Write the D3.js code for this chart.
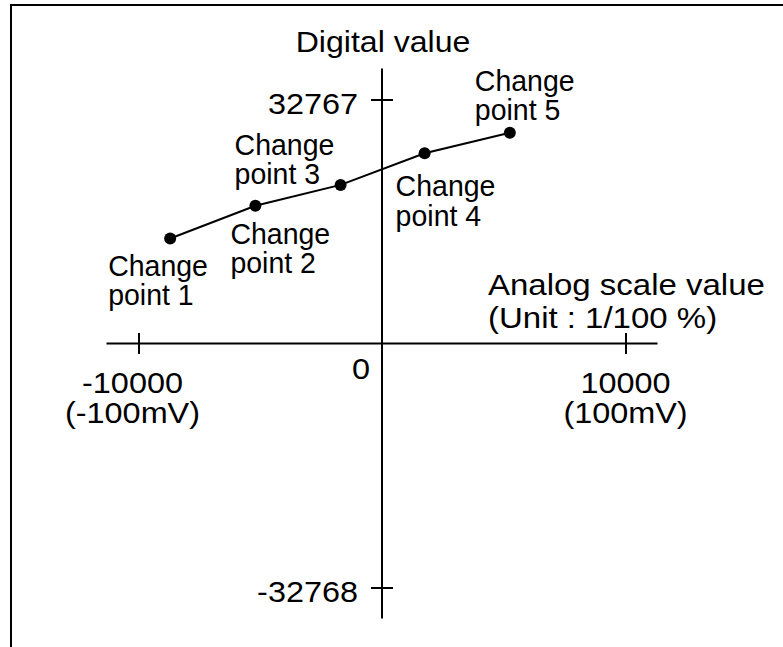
<!DOCTYPE html>
<html>
<head>
<meta charset="utf-8">
<script src="https://cdn.jsdelivr.net/npm/d3@7"></script>
<style>
  body { margin: 0; background: #fff; }
  svg { display: block; }
  text { font-family: "Liberation Sans", Arial, Helvetica, sans-serif; fill: #000; }
</style>
</head>
<body>
<div id="chart"></div>
<script>
// Data
const xTicks = [-10000, 10000];
const xTickLabels = [["-10000", "(-100mV)"], ["10000", "(100mV)"]];
const yTicks = [32767, -32768];
const yTickLabels = ["32767", "-32768"];
const pointX = [-8700, -5200, -1700, 1750, 5250];
const pointY = [14100, 18500, 21300, 25550, 28300];
const pointLabels = [
  ["Change", "point 1"],
  ["Change", "point 2"],
  ["Change", "point 3"],
  ["Change", "point 4"],
  ["Change", "point 5"]
];

// Label offsets from each point (pixels)
const labelOffsets = [[-62, 37], [-25, 38], [-106, -30], [-29, 43], [-35, -42]];
const xLabelShift = [-6, 0];

const width = 783;
const height = 647;

const x = d3.scaleLinear()
    .domain([-10000, 10000])
    .range([138.5, 625.5]);

const y = d3.scaleLinear()
    .domain([-32768, 32767])
    .range([587.5, 99.5]);

const svg = d3.create("svg")
    .attr("width", width)
    .attr("height", height);

// Frame (open to the right and bottom)
svg.append("rect")
    .attr("x", 11).attr("y", 5)
    .attr("width", 820).attr("height", 700)
    .attr("fill", "none")
    .attr("stroke", "#000")
    .attr("stroke-width", 2);

const x0 = x(0), y0 = y(0);

// Axis lines
svg.append("line")
    .attr("x1", x(-10000) - 32).attr("x2", x(10000) + 32)
    .attr("y1", y0).attr("y2", y0)
    .attr("stroke", "#000").attr("stroke-width", 2);

svg.append("line")
    .attr("x1", x0).attr("x2", x0)
    .attr("y1", y(32767) - 31).attr("y2", y(-32768) + 31)
    .attr("stroke", "#000").attr("stroke-width", 2);

// Ticks through the axes
const gx = svg.append("g")
    .attr("transform", `translate(0,${y0})`)
    .call(d3.axisBottom(x).tickValues(xTicks).tickSize(0).tickFormat(""));
gx.select(".domain").remove();
gx.selectAll(".tick line")
    .attr("y1", -10.5).attr("y2", 10.5)
    .attr("stroke", "#000").attr("stroke-width", 2);

const gy = svg.append("g")
    .attr("transform", `translate(${x0},0)`)
    .call(d3.axisLeft(y).tickValues(yTicks).tickSize(0).tickFormat(""));
gy.select(".domain").remove();
gy.selectAll(".tick line")
    .attr("x1", -11).attr("x2", 11)
    .attr("stroke", "#000").attr("stroke-width", 2);

// Tick labels
const stretch = 1.08;

svg.selectAll(".xlab")
  .data(xTicks)
  .join("text")
    .attr("class", "xlab")
    .attr("transform", (d, i) => `translate(${x(d) + xLabelShift[i]},${y0 + 50}) scale(${stretch},1)`)
    .attr("text-anchor", "middle")
    .attr("font-size", 30)
    .selectAll("tspan")
    .data((d, i) => xTickLabels[i])
    .join("tspan")
      .attr("x", 0)
      .attr("dy", (d, j) => j === 0 ? 0 : 30)
      .text(d => d);

svg.selectAll(".ylab")
  .data(yTicks)
  .join("text")
    .attr("class", "ylab")
    .attr("transform", d => `translate(${x0 - 24},${y(d) + 14.5}) scale(${stretch},1)`)
    .attr("text-anchor", "end")
    .attr("font-size", 30)
    .text((d, i) => yTickLabels[i]);

svg.append("text")
    .attr("transform", `translate(${x0 - 12},${y0 + 36}) scale(${stretch},1)`)
    .attr("text-anchor", "end")
    .attr("font-size", 30)
    .text("0");

// Axis titles
svg.append("text")
    .attr("transform", `translate(${x0 + 1},52) scale(1.07,1)`)
    .attr("text-anchor", "middle")
    .attr("font-size", 30)
    .text("Digital value");

const xTitle = svg.append("text")
    .attr("transform", `translate(488,295) scale(1.1,1)`)
    .attr("font-size", 30);
xTitle.append("tspan").attr("x", 0).text("Analog scale value");
xTitle.append("tspan").attr("x", 0).attr("dy", 33).text("(Unit : 1/100 %)");

// Line through the change points
const pts = pointX.map((v, i) => [v, pointY[i]]);

svg.append("path")
    .datum(pts)
    .attr("fill", "none")
    .attr("stroke", "#000")
    .attr("stroke-width", 2)
    .attr("d", d3.line().x(d => x(d[0])).y(d => y(d[1])));

svg.selectAll("circle")
  .data(pts)
  .join("circle")
    .attr("cx", d => x(d[0]))
    .attr("cy", d => y(d[1]))
    .attr("r", 6)
    .attr("fill", "#000");

// Change point labels
svg.selectAll(".plab")
  .data(pts)
  .join("text")
    .attr("class", "plab")
    .attr("transform", (d, i) => `translate(${x(d[0]) + labelOffsets[i][0]},${y(d[1]) + labelOffsets[i][1]}) scale(0.95,1)`)
    .attr("font-size", 30)
    .selectAll("tspan")
    .data((d, i) => pointLabels[i])
    .join("tspan")
      .attr("x", 0)
      .attr("dy", (d, j) => j === 0 ? 0 : 29.5)
      .text(d => d);

d3.select("#chart").append(() => svg.node());
</script>
</body>
</html>
